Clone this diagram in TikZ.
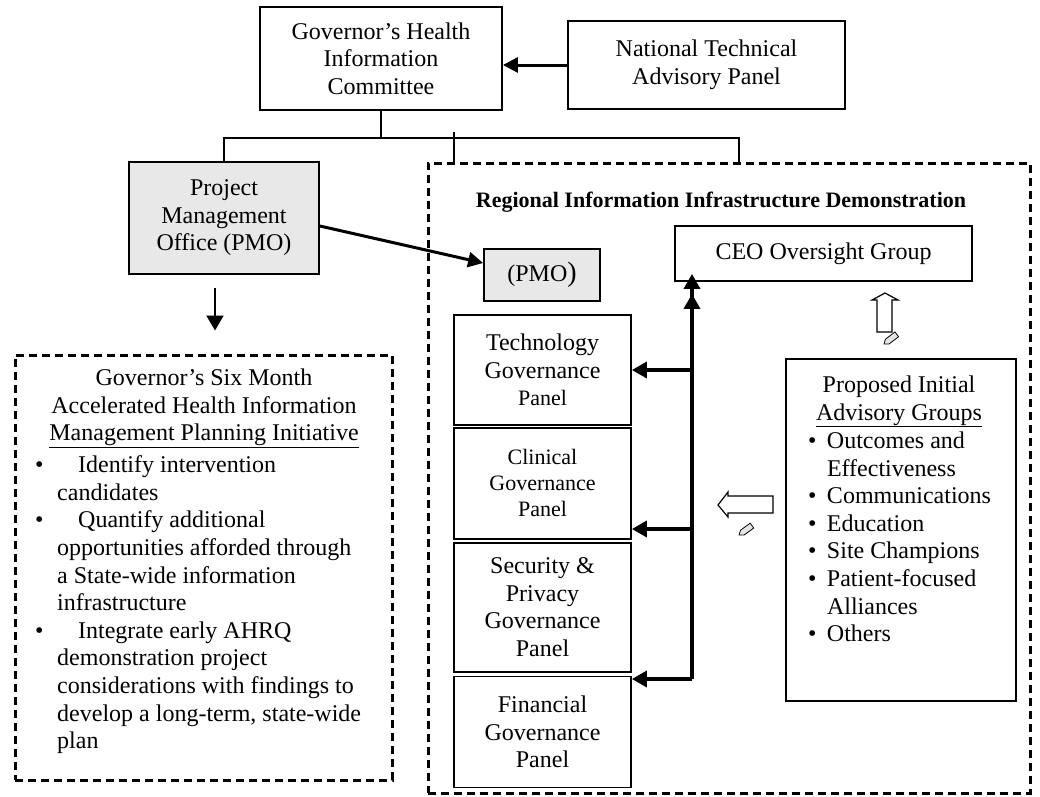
\documentclass[tikz,border=0pt]{standalone}
\usepackage{fontspec}
\setmainfont{Liberation Serif}
\usetikzlibrary{positioning,arrows.meta}

\definecolor{pmogray}{RGB}{232,232,232}

\tikzset{
  txt/.style={inner sep=0pt, font=\fontsize{24}{27.6}\selectfont},
  box/.style={txt, draw, line width=1.8pt, align=center},
  pmobox/.style={box, fill=pmogray},
  panel/.style={box, minimum width=177pt},
  smalltxt/.style={font=\fontsize{22}{26}\selectfont},
  dashbox/.style={draw, line width=3pt, dash pattern=on 8pt off 5pt, inner sep=0pt},
  tree/.style={line width=1.5pt},
  thickarrow/.style={line width=3pt, -{Triangle[length=15pt,width=15pt]}},
  busarrow/.style={line width=3.5pt, -{Triangle[length=15pt,width=16pt]}},
  downarrow/.style={line width=2pt, -{Triangle[length=15pt,width=17pt]}},
  hollow/.style={draw, fill=white, line width=1.2pt, line join=miter},
  pencil/.style={draw, fill=gray!20, line width=0.8pt}
}

\begin{document}
\begin{tikzpicture}[x=1pt, y=-1pt]
  \useasboundingbox (0,0) rectangle (1040,796);

  % committee and advisory panel
  \node[box, minimum width=242pt, minimum height=103pt] (ghic) at (381,58.5)
    {Governor’s Health\\Information\\Committee};
  \node[box, minimum width=277pt, minimum height=88pt] (ntap) at (706.5,65)
    {National Technical\\Advisory Panel};
  \draw[thickarrow] (ntap.west) -- (ntap.west -| ghic.east);

  % project management office
  \node[pmobox, minimum width=190pt, minimum height=112pt] (pmo) at (224,218)
    {Project\\Management\\Office (PMO)};

  % six month initiative
  \node[dashbox, minimum width=377pt, minimum height=425pt] (gsm) at (203.5,567.5) {};
  \node[txt, align=center, anchor=north] (gsmtitle) at (204,368.6)
    {Governor’s Six Month\\Accelerated Health Information\\\underline{Management Planning Initiative}};
  \node[txt, align=left, anchor=north west] (gsmlist) at (34.8,455.6)
    {\makebox[22.2pt][l]{\textbullet}\hspace*{21pt}Identify intervention\\
     \hspace*{22.2pt}candidates\\
     \makebox[22.2pt][l]{\textbullet}\hspace*{21pt}Quantify additional\\
     \hspace*{22.2pt}opportunities afforded through\\
     \hspace*{22.2pt}a State-wide information\\
     \hspace*{22.2pt}infrastructure\\
     \makebox[22.2pt][l]{\textbullet}\hspace*{21pt}Integrate early AHRQ\\
     \hspace*{22.2pt}demonstration project\\
     \hspace*{22.2pt}considerations with findings to\\
     \hspace*{22.2pt}develop a long-term, state-wide\\
     \hspace*{22.2pt}plan};
  \draw[downarrow] ([xshift=-9pt,yshift=-13pt]pmo.south) -- ([xshift=11.5pt,yshift=23pt]gsm.north);

  % regional demonstration
  \node[dashbox, minimum width=602pt, minimum height=630pt] (rid) at (729,478) {};
  \node[anchor=base, inner sep=0pt, font=\bfseries\fontsize{22}{26}\selectfont] (ridtitle) at (721,207)
    {Regional Information Infrastructure Demonstration};

  \draw[tree] (ghic.south) -- ++(0,27) coordinate (tj) -| (pmo.north);
  \draw[tree] (tj) -| ([xshift=10pt]rid.north);
  \draw[tree] ([xshift=-275pt]rid.north) -- ++(0,-30);

  \node[pmobox, minimum width=116pt, minimum height=52pt] (pmo2) at (542,275)
    {(PMO{\fontsize{28}{28}\selectfont )}};
  \draw[thickarrow] ([yshift=-8pt]pmo.east) -- ([yshift=12pt]pmo2.west);

  \node[box, minimum width=297pt, minimum height=55pt] (ceo) at (823.5,253.5) {CEO Oversight Group};

  % governance panels
  \node[panel, minimum height=110pt] (tech) at (542.5,370)
    {Technology\\Governance\\{\fontsize{22}{26}\selectfont Panel}};
  \node[panel, smalltxt, minimum height=111pt, below=1pt of tech] (clin)
    {Clinical\\Governance\\Panel};
  \node[panel, minimum height=129pt, below=2pt of clin] (sec)
    {Security \&\\Privacy\\Governance\\Panel};
  \node[panel, minimum height=111pt, below=3pt of sec] (fin)
    {Financial\\Governance\\Panel};

  \coordinate (b1) at (692,370);
  \coordinate (b2) at (692,529);
  \coordinate (b3) at (692,679);
  \draw[busarrow, shorten >=-8pt] (b3) -- (b3 |- ceo.south);
  \draw[busarrow, shorten >=12pt] (b1) -- (b1 |- ceo.south);
  \draw[busarrow] (b1) -- (b1 -| tech.east);
  \draw[busarrow] (b2) -- (b2 -| clin.east);
  \draw[busarrow] (b3) -- (b3 -| fin.east);

  % advisory groups
  \node[box, minimum width=230pt, minimum height=342pt] (adv) at (901,530) {};
  \node[txt, align=center, anchor=north] (advtitle) at (899,375.6)
    {Proposed Initial\\\underline{Advisory Groups}};
  \node[txt, align=left, anchor=north west] (advlist) at (807.8,431.6)
    {\makebox[19pt][l]{\textbullet}Outcomes and\\
     \hspace*{19pt}Effectiveness\\
     \makebox[19pt][l]{\textbullet}Communications\\
     \makebox[19pt][l]{\textbullet}Education\\
     \makebox[19pt][l]{\textbullet}Site Champions\\
     \makebox[19pt][l]{\textbullet}Patient-focused\\
     \hspace*{19pt}Alliances\\
     \makebox[19pt][l]{\textbullet}Others};

  % block arrows
  \draw[hollow] (885,293) -- (898,300) -- (892,300) -- (892,332) -- (877,332) -- (877,300) -- (872,300) -- cycle;
  \draw[hollow] (718,505) -- (728,492) -- (728,496) -- (773,496) -- (773,513) -- (728,513) -- (728,517) -- cycle;
  \begin{scope}[shift={(884,344)}, rotate=37]
    \draw[pencil] (0,0) -- (4,-3) -- (16,-3) -- (16,3) -- (4,3) -- cycle;
  \end{scope}
  \begin{scope}[shift={(739,535)}, rotate=36]
    \draw[pencil] (0,0) -- (4,-3) -- (16,-3) -- (16,3) -- (4,3) -- cycle;
  \end{scope}
\end{tikzpicture}
\end{document}
